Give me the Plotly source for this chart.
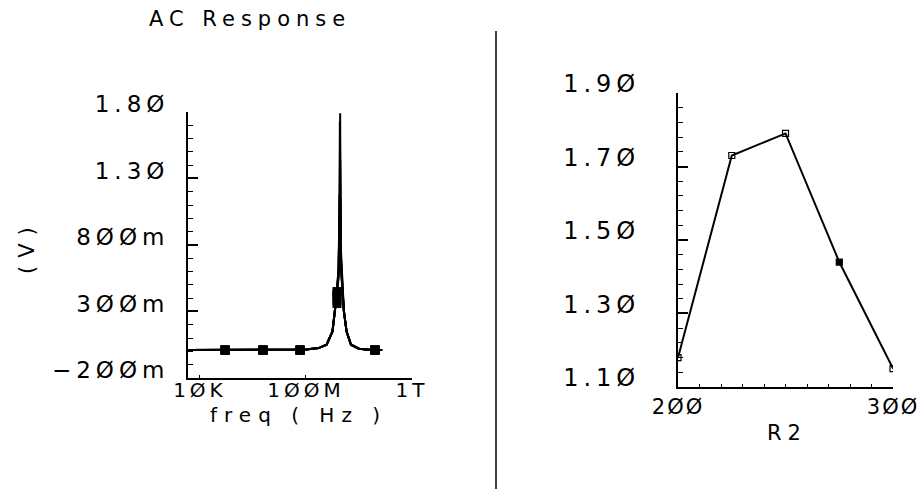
import plotly.graph_objects as go

# ---------------- data ----------------
# AC response: shared frequency grid (Hz)
freq_hz = [3.5e3, 1e5, 1e6, 1e7, 1e8, 3e8, 6e8, 1.0e9, 1.2e9, 1.4e9,
           1.7e9, 1.85e9, 1.9e9, 1.95e9, 2.0e9, 2.1e9,
           2.4e9, 2.7e9, 3.4e9, 5e9, 1e10, 3e10, 7.5e10]

# output voltage (V) for each R2 value of the sweep
v_r2_200 = [0.01, 0.01, 0.01, 0.01, 0.015, 0.025, 0.05, 0.15, 0.28, 0.40,
            0.60, 1.18, 1.00, 0.85, 0.72, 0.60,
            0.45, 0.30, 0.15, 0.05, 0.02, 0.01, 0.01]
v_r2_225 = [0.01, 0.01, 0.01, 0.01, 0.015, 0.025, 0.05, 0.15, 0.28, 0.40,
            0.62, 1.10, 1.73, 1.20, 0.90, 0.65,
            0.45, 0.30, 0.15, 0.05, 0.02, 0.01, 0.01]
v_r2_250 = [0.01, 0.01, 0.01, 0.01, 0.015, 0.025, 0.05, 0.15, 0.28, 0.40,
            0.62, 0.95, 1.35, 1.79, 1.15, 0.70,
            0.45, 0.30, 0.15, 0.05, 0.02, 0.01, 0.01]
v_r2_275 = [0.01, 0.01, 0.01, 0.01, 0.015, 0.025, 0.05, 0.15, 0.28, 0.40,
            0.58, 0.90, 1.20, 1.44, 1.05, 0.68,
            0.45, 0.30, 0.15, 0.05, 0.02, 0.01, 0.01]
v_r2_300 = [0.01, 0.01, 0.01, 0.01, 0.015, 0.025, 0.05, 0.15, 0.28, 0.40,
            0.55, 0.80, 0.95, 1.05, 1.15, 0.75,
            0.45, 0.30, 0.15, 0.05, 0.02, 0.01, 0.01]

# curve symbols (one set per curve)
marker_freq_hz = [8.9e4, 2.4e6, 6.0e7, 1.48e9, 4.0e10]
mk_r2_200 = [0.01, 0.01, 0.01, 0.38, 0.01]
mk_r2_225 = [0.01, 0.01, 0.01, 0.42, 0.01]
mk_r2_250 = [0.01, 0.01, 0.01, 0.45, 0.01]
mk_r2_275 = [0.01, 0.01, 0.01, 0.43, 0.01]
mk_r2_300 = [0.01, 0.01, 0.01, 0.36, 0.01]

# peak response vs R2
r2_values = [200, 225, 250, 275, 300]
peak_v = [1.18, 1.73, 1.79, 1.44, 1.15]

# tick labels
freq_tick_vals = [1e4, 1e8, 1e12]
freq_tick_text = ["1ØK", "1ØØM", "1T"]
v_tick_vals = [-0.2, 0.3, 0.8, 1.3, 1.8]
v_tick_text = ["−2ØØm", "3ØØm", "8ØØm", "1.3Ø", "1.8Ø"]
r2_tick_vals = [200, 300]
r2_tick_text = ["2ØØ", "3ØØ"]
pk_tick_vals = [1.1, 1.3, 1.5, 1.7, 1.9]
pk_tick_text = ["1.1Ø", "1.3Ø", "1.5Ø", "1.7Ø", "1.9Ø"]

# ---------------- figure ----------------
FONT = "DejaVu Sans"


def sp(text, px, up=0):
    style = f"letter-spacing:{px}px"
    if up:
        style += f";baseline-shift:{up}px"
    return f'<span style="{style}">{text}</span>'


fig = go.Figure()

curves = [v_r2_200, v_r2_225, v_r2_250, v_r2_275, v_r2_300]
marks = [mk_r2_200, mk_r2_225, mk_r2_250, mk_r2_275, mk_r2_300]
for v, mk in zip(curves, marks):
    fig.add_trace(go.Scatter(x=freq_hz, y=v, mode="lines",
                             line=dict(color="black", width=2),
                             xaxis="x", yaxis="y", hoverinfo="skip"))
    fig.add_trace(go.Scatter(x=marker_freq_hz, y=mk, mode="markers",
                             marker=dict(symbol="square", size=9, color="black"),
                             xaxis="x", yaxis="y", hoverinfo="skip"))

fig.add_trace(go.Scatter(
    x=r2_values, y=peak_v, mode="lines+markers",
    line=dict(color="black", width=2),
    marker=dict(symbol=["square-open", "square-open", "square-open", "square", "square-open"],
                size=6, color="black", line=dict(color="black", width=1.2)),
    xaxis="x2", yaxis="y2", hoverinfo="skip"))

axis_common = dict(showgrid=False, zeroline=False, showline=True, linecolor="black",
                   tickcolor="black", ticks="inside", automargin=False,
                   ticklabeloverflow="allow")

fig.update_layout(
    width=918, height=489,
    margin=dict(l=0, r=0, t=0, b=0, pad=0, autoexpand=False),
    paper_bgcolor="white", plot_bgcolor="white",
    showlegend=False,
    font=dict(family=FONT, color="black"),
    xaxis=dict(**axis_common, type="log", range=[3.55, 12],
               domain=[0.2048, 0.4488], anchor="y", linewidth=1.5,
               ticklen=3, tickwidth=1,
               tickvals=freq_tick_vals, ticktext=[sp(t, 4, 7) for t in freq_tick_text],
               tickfont=dict(family=FONT, size=20, color="black")),
    yaxis=dict(**axis_common, range=[-0.2, 1.8],
               domain=[0.2270, 0.7710], anchor="x", linewidth=2,
               ticklen=10, tickwidth=1.5,
               minor=dict(ticks="inside", ticklen=5, tick0=-0.2, dtick=0.1,
                          tickcolor="black", tickwidth=1),
               tickvals=v_tick_vals, ticktext=[sp(t, 5, 8) for t in v_tick_text],
               ticklabelstandoff=12,
               tickfont=dict(family=FONT, size=23, color="black")),
    xaxis2=dict(**axis_common, range=[200, 300],
                domain=[0.7386, 0.9728], anchor="y2", linewidth=1.5,
                ticklen=8, tickwidth=1,
                minor=dict(ticks="inside", ticklen=3, dtick=10, tick0=200,
                           tickcolor="black", tickwidth=1),
                tickvals=r2_tick_vals, ticktext=[sp(t, 2) for t in r2_tick_text],
                tickfont=dict(family=FONT, size=21, color="black")),
    yaxis2=dict(**axis_common, range=[1.1, 1.9],
                domain=[0.2086, 0.8098], anchor="x2", linewidth=2,
                ticklen=10, tickwidth=1.5,
                minor=dict(ticks="inside", ticklen=5, tick0=1.1, dtick=0.04,
                           tickcolor="black", tickwidth=1),
                tickvals=pk_tick_vals, ticktext=[sp(t, 5, 9) for t in pk_tick_text],
                ticklabelstandoff=31,
                tickfont=dict(family=FONT, size=24, color="black")),
    annotations=[
        dict(text=sp("AC Response", 6), x=250 / 918, y=1 - 19 / 489,
             xref="paper", yref="paper", showarrow=False,
             xanchor="center", yanchor="middle",
             font=dict(family=FONT, size=21, color="black")),
        dict(text=sp("freq ( Hz )", 7), x=298 / 918, y=1 - 415 / 489,
             xref="paper", yref="paper", showarrow=False,
             xanchor="center", yanchor="middle",
             font=dict(family=FONT, size=20, color="black")),
        dict(text=sp("(V)", 8), x=27 / 918, y=1 - 247 / 489,
             xref="paper", yref="paper", showarrow=False, textangle=-90,
             xanchor="center", yanchor="middle",
             font=dict(family=FONT, size=21, color="black")),
        dict(text=sp("R2", 6), x=787 / 918, y=1 - 433 / 489,
             xref="paper", yref="paper", showarrow=False,
             xanchor="center", yanchor="middle",
             font=dict(family=FONT, size=21, color="black")),
    ],
    shapes=[
        dict(type="line", xref="paper", yref="paper",
             x0=496 / 918, x1=496 / 918, y0=0, y1=1 - 31 / 489,
             line=dict(color="black", width=1.5)),
    ],
)

fig.write_html("out.html")
